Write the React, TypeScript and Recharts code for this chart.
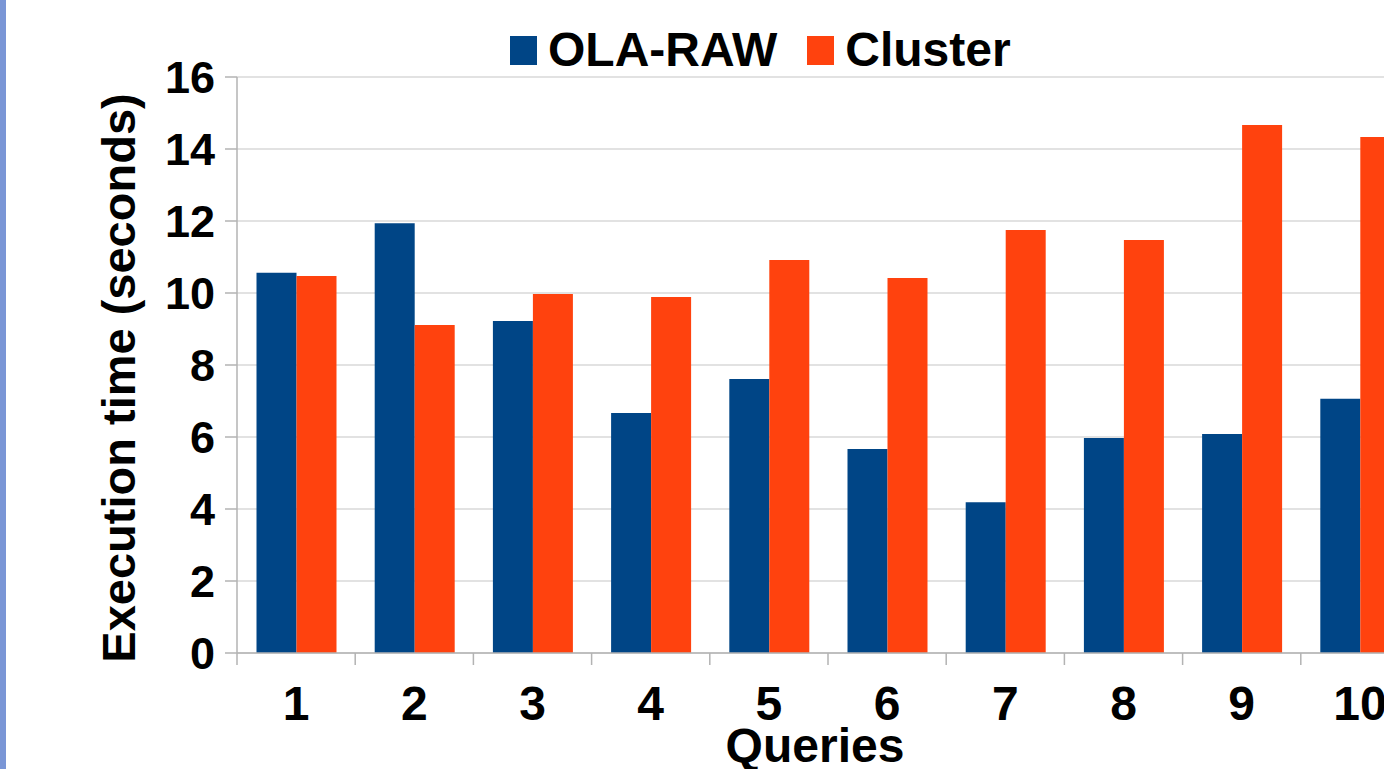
import React from 'react'
import { BarChart, Bar, XAxis, YAxis, CartesianGrid, Label } from 'recharts'

const queries = ['1', '2', '3', '4', '5', '6', '7', '8', '9', '10']
const olaRaw = [10.56, 11.94, 9.22, 6.67, 7.61, 5.67, 4.19, 5.97, 6.08, 7.06]
const cluster = [10.47, 9.11, 9.97, 9.89, 10.92, 10.42, 11.75, 11.47, 14.67, 14.33]
const yTicks = [0, 2, 4, 6, 8, 10, 12, 14, 16]
const seriesNames = ['OLA-RAW', 'Cluster']
const seriesColors = ['#004586', '#ff420e']

const FONT = '"Liberation Sans", Arial, sans-serif'
const AXIS = '#b3b3b3'

const data = queries.map((q, i) => ({ name: q, ola: olaRaw[i], cluster: cluster[i] }))

// category label plus tick marks on the category boundaries (like LibreOffice)
const QueryTick = ({ x, y, payload }: any) => {
    const half = payload.offset || 0
    const last = payload.index === queries.length - 1
    return (
        <g>
            <line x1={x - half} x2={x - half} y1={y} y2={y + 12} stroke={AXIS} strokeWidth={1.5} />
            {last && <line x1={x + half} x2={x + half} y1={y} y2={y + 12} stroke={AXIS} strokeWidth={1.5} />}
            <text
                x={x}
                y={y + 33}
                dy="0.71em"
                textAnchor="middle"
                fontSize={48}
                fontWeight="bold"
                fontFamily={FONT}
                fill="#000"
            >
                {payload.value}
            </text>
        </g>
    )
}

export default function App() {
    return (
        <div
            style={{
                position: 'fixed',
                top: 0,
                left: 0,
                width: 1384,
                height: 769,
                overflow: 'hidden',
                background: '#fff',
                fontFamily: FONT,
            }}
        >
            <div style={{ position: 'absolute', left: 0, top: 0, width: 6, height: 769, background: '#7a96d6' }} />

            {/* legend */}
            <div
                style={{
                    position: 'absolute',
                    top: 27,
                    left: 510,
                    display: 'flex',
                    alignItems: 'center',
                    fontSize: 48,
                    fontWeight: 'bold',
                    lineHeight: '46px',
                    color: '#000',
                    whiteSpace: 'nowrap',
                }}
            >
                {seriesNames.map((name, i) => (
                    <div key={name} style={{ display: 'flex', alignItems: 'center', marginRight: i === 0 ? 30 : 0 }}>
                        <span style={{ width: 27, height: 29, background: seriesColors[i], display: 'inline-block', marginRight: 11 }} />
                        <span>{name}</span>
                    </div>
                ))}
            </div>

            <div style={{ position: 'absolute', left: 0, top: 0 }}>
                <BarChart
                    width={1440}
                    height={769}
                    data={data}
                    margin={{ top: 77, right: 21, bottom: 0, left: 0 }}
                    barCategoryGap="16.5%"
                    barGap={0}
                >
                    <CartesianGrid horizontal vertical={false} stroke="#d9d9d9" strokeWidth={1.5} />
                    <XAxis
                        dataKey="name"
                        height={116}
                        axisLine={{ stroke: AXIS, strokeWidth: 1.5 }}
                        tickLine={false}
                        tickSize={0}
                        tickMargin={0}
                        tick={<QueryTick />}
                        interval={0}
                    >
                        <Label
                            content={({ viewBox }: any) => (
                                <text
                                    x={viewBox.x + viewBox.width / 2 - 13}
                                    y={viewBox.y + 109}
                                    textAnchor="middle"
                                    fontSize={48}
                                    fontWeight="bold"
                                    fontFamily={FONT}
                                    fill="#000"
                                >
                                    Queries
                                </text>
                            )}
                        />
                    </XAxis>
                    <YAxis
                        width={237}
                        domain={[0, 16]}
                        ticks={yTicks}
                        interval={0}
                        axisLine={{ stroke: AXIS, strokeWidth: 1.5 }}
                        tickLine={{ stroke: AXIS, strokeWidth: 1.5 }}
                        tickSize={12}
                        tickMargin={10}
                        tick={{ fill: '#000', fontSize: 45, fontWeight: 'bold', fontFamily: FONT }}
                    >
                        <Label
                            content={({ viewBox }: any) => {
                                const cx = 135
                                const cy = viewBox.y + viewBox.height / 2 + 13
                                return (
                                    <text
                                        x={cx}
                                        y={cy}
                                        transform={`rotate(-90 ${cx} ${cy})`}
                                        textAnchor="middle"
                                        fontSize={47}
                                        fontWeight="bold"
                                        fontFamily={FONT}
                                        fill="#000"
                                    >
                                        Execution time (seconds)
                                    </text>
                                )
                            }}
                        />
                    </YAxis>
                    <Bar dataKey="ola" name={seriesNames[0]} fill={seriesColors[0]} isAnimationActive={false} />
                    <Bar dataKey="cluster" name={seriesNames[1]} fill={seriesColors[1]} isAnimationActive={false} />
                </BarChart>
            </div>
        </div>
    )
}
